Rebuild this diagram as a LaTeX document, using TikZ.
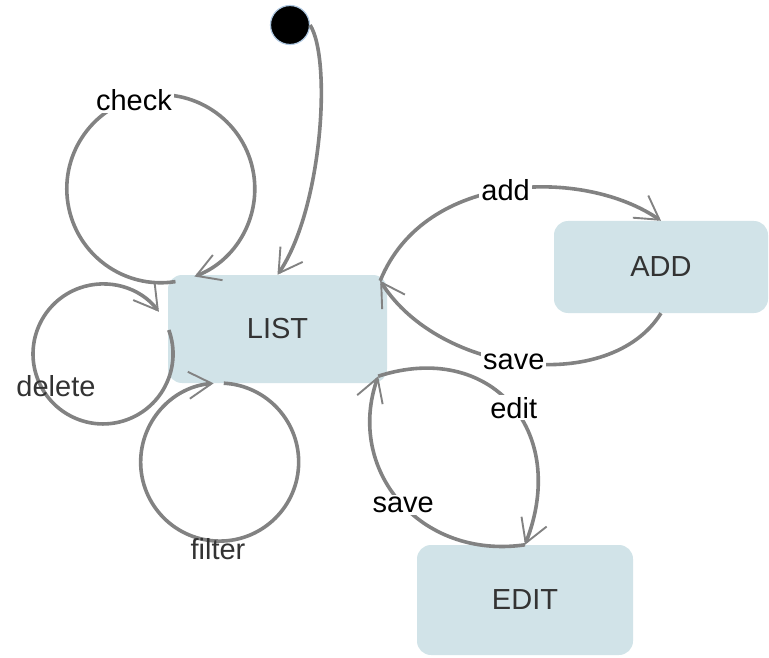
\documentclass[tikz,border=0pt]{standalone}
\usepackage{fontspec}
\setmainfont{Liberation Sans}
\usetikzlibrary{arrows.meta,calc}
\definecolor{nodefill}{RGB}{209,227,232}
\definecolor{edgegray}{RGB}{130,130,130}
\definecolor{txtgray}{RGB}{51,51,51}
\definecolor{halo}{RGB}{175,200,225}
\begin{document}
\begin{tikzpicture}[x=1pt,y=-1pt,
  state/.style={rectangle, rounded corners=14pt, fill=nodefill, text=txtgray,
    font=\fontsize{29}{34}\selectfont, inner sep=0pt},
  tr/.style={draw=edgegray, line width=3.6pt,
    -{Straight Barb[length=23pt,width=27pt,line width=1.9pt]}},
  lbl/.style={fill=white, text=black, font=\fontsize{29}{34}\selectfont, inner sep=2pt},
  lbltwo/.style={text=txtgray, font=\fontsize{29}{34}\selectfont, inner sep=0pt}]
\useasboundingbox (0,0) rectangle (769,658);

% states
\node[state, minimum width=219pt, minimum height=108pt] (list) at (277.5,329) {LIST};
\node[state, minimum width=214pt, minimum height=92pt] (add) at (661,267) {ADD};
\node[state, minimum width=216pt, minimum height=110pt] (edit) at (525,600) {EDIT};
\node[circle, fill=black, draw=halo, line width=1.2pt, minimum size=39pt, inner sep=0pt] (init) at (290,25) {};

% anchor points on LIST
\coordinate (ck) at ($(list.north west)+(7.7,6.8)$);
\coordinate (dl) at ($(list.west)+(1,1)$);
\coordinate (fl) at ($(list.south west)+(56,0)$);
\coordinate (la) at ($(list.north east)+(-7,6)$);
\coordinate (lb) at ($(list.south east)+(-9,-7)$);

% initial transition
\draw[tr] (init.east) .. controls (332,60) and (322,210) .. (list.north);

% self loops
\draw[tr] (ck) arc[start angle=81, end angle=429, radius=94];
\node[lbl] (lcheck) at (134,100) {check};
\draw[tr] (dl) arc[start angle=-20, end angle=323, radius=70];
\node[lbltwo] (ldelete) at (56,386) {delete};
\draw[tr] (fl) arc[start angle=273, end angle=625.6, radius=79];
\node[lbltwo] (lfilter) at (218,549) {filter};

% LIST <-> ADD
\draw[tr] (la) .. controls (425,170) and (585,168) .. (add.north) node[lbl, pos=0.49] {add};
\draw[tr] (add.south) .. controls (610,395) and (440,375) .. (la) node[lbl, pos=0.53] {save};

% LIST <-> EDIT
\draw[tr] (lb) .. controls (490,340) and (570,430) .. (edit.north) node[lbl, pos=0.52] {edit};
\draw[tr] (edit.north) .. controls (420,560) and (345,470) .. (lb) node[lbl, pos=0.48] {save};
\end{tikzpicture}
\end{document}
